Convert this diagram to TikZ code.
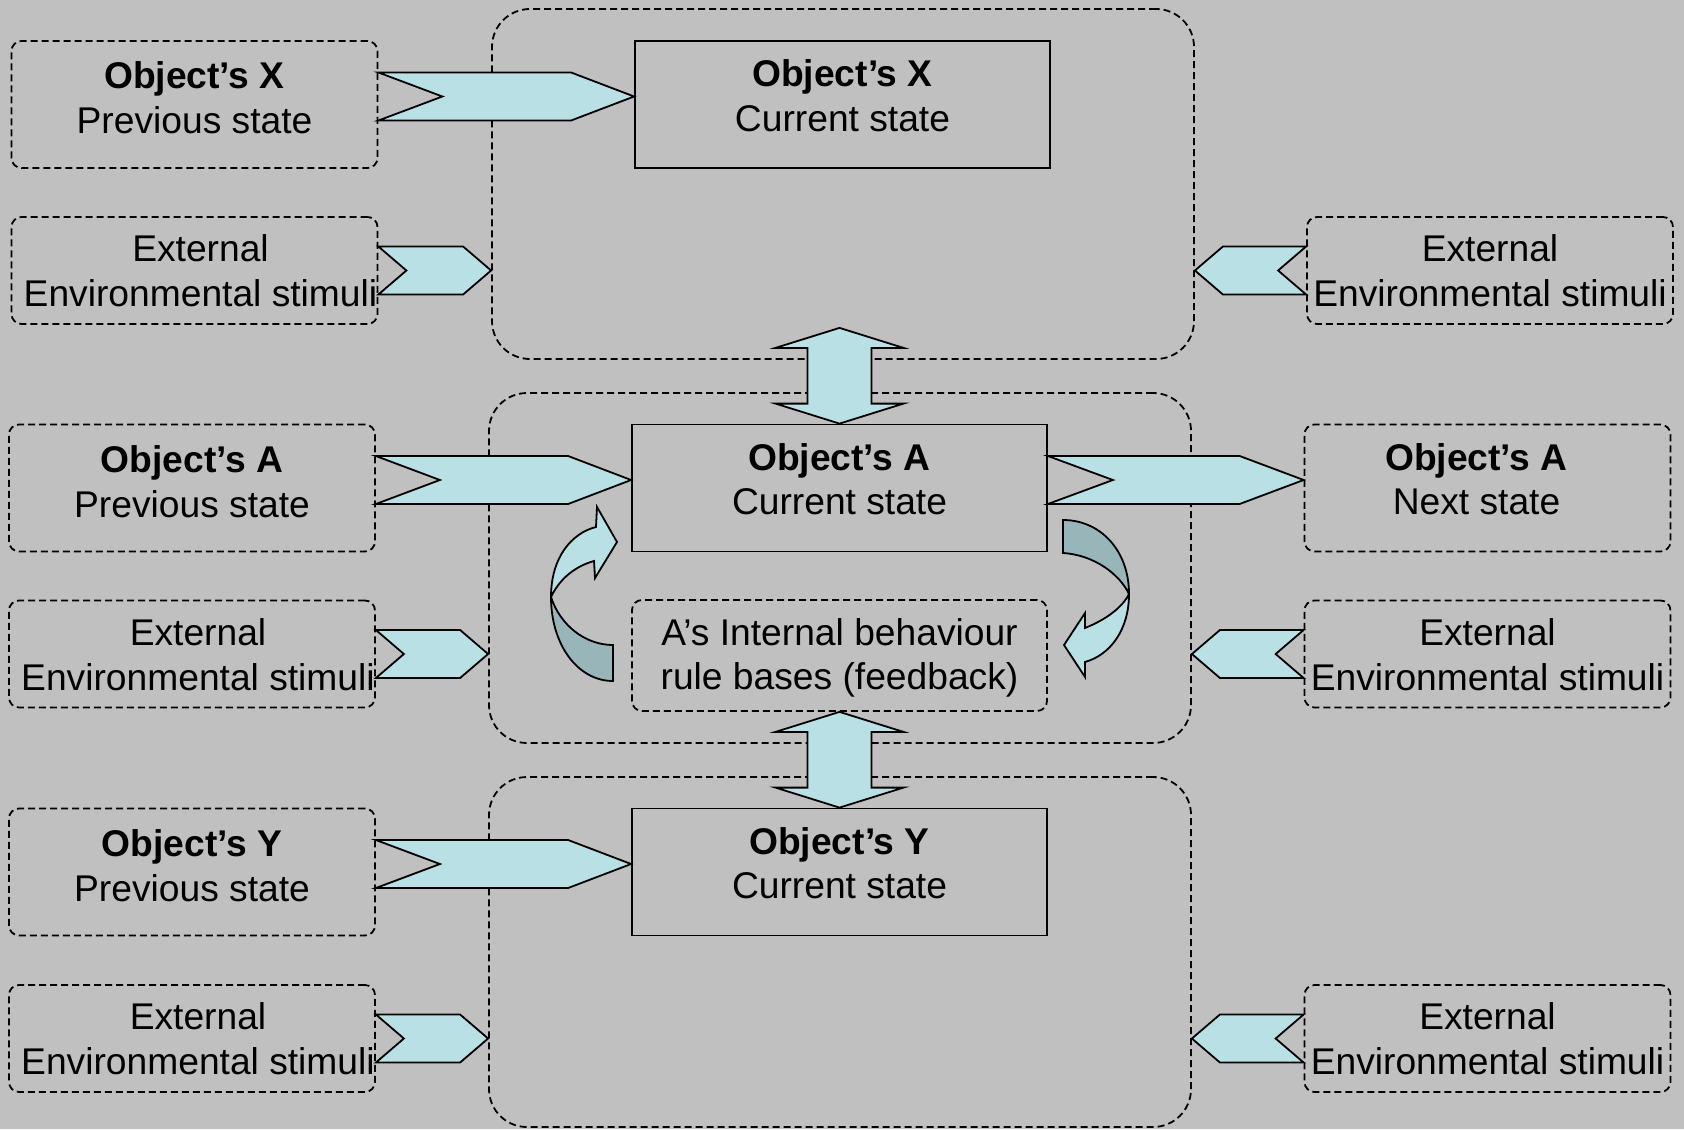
\documentclass[tikz,border=0pt]{standalone}
\usepackage{fontspec}
\setmainfont{Liberation Sans}
\usepackage{xcolor}
\definecolor{colBack}{RGB}{192,192,192}
\definecolor{colArrow}{RGB}{185,224,228}
\definecolor{colArrowDark}{RGB}{152,181,186}
\usetikzlibrary{calc}
% two-line box text: #1 extra room on top, #2 extra room below
\newcommand{\boxtxt}[4]{\begin{tabular}{@{}c@{}}\rule{0pt}{\dimexpr15.6pt+#1\relax}#3\\#4\\[#2]\end{tabular}}
% chevron arrows: #1 tail, #2 tip (same height), #3 notch depth, #4 head length
\newcommand{\chevR}[4]{\draw[chev] let \p1=(#1), \p2=(#2) in
  (\x1,\y1+12pt) -- (\x2-#4,\y1+12pt) -- (\x2,\y1) -- (\x2-#4,\y1-12pt) -- (\x1,\y1-12pt) -- (\x1+#3,\y1) -- cycle;}
\newcommand{\chevL}[4]{\draw[chev] let \p1=(#1), \p2=(#2) in
  (\x1,\y1+12pt) -- (\x2+#4,\y1+12pt) -- (\x2,\y1) -- (\x2+#4,\y1-12pt) -- (\x1,\y1-12pt) -- (\x1-#3,\y1) -- cycle;}
% vertical double arrow: #1 upper tip, #2 lower tip
\newcommand{\dblarrow}[2]{\draw[chev] let \p1=(#1), \p2=(#2) in
  (\x1,\y1) -- (\x1+32pt,\y1-10pt) -- (\x1+16pt,\y1-10pt) -- (\x1+16pt,\y2+10pt) -- (\x1+32pt,\y2+10pt)
  -- (\x1,\y2) -- (\x1-32pt,\y2+10pt) -- (\x1-16pt,\y2+10pt) -- (\x1-16pt,\y1-10pt) -- (\x1-32pt,\y1-10pt) -- cycle;}

\begin{document}
\begin{tikzpicture}[x=0.5pt, y=-0.5pt, line width=0.9pt,
  txt/.style={font=\fontsize{18.6}{22.3}\selectfont, align=center, inner sep=0pt},
  dbox/.style={txt, draw, dash pattern=on 3.5pt off 2pt, rounded corners=5pt},
  prevbox/.style={dbox, minimum width=183pt, minimum height=63.5pt},
  extbox/.style={dbox, minimum width=183pt, minimum height=53.5pt},
  rulebox/.style={dbox, minimum width=207.5pt, minimum height=55.5pt},
  statebox/.style={txt, draw, minimum width=207.5pt, minimum height=63.5pt},
  contbox/.style={draw, dash pattern=on 3.5pt off 2pt, rounded corners=19pt, minimum width=351pt, minimum height=175pt, inner sep=0pt},
  chev/.style={draw, fill=colArrow},
  ]
  \fill[colBack] (0,0) rectangle (1684,1129);
  \useasboundingbox (0,0) rectangle (1684,1129);
  % containers
  \node[contbox] (xcont) at (843,184) {};
  \node[contbox] (acont) at (840,568) {};
  \node[contbox] (ycont) at (840,952) {};
  % object X
  \node[prevbox] (xprev) at (194.5,104.5) {\boxtxt{0pt}{2.2pt}{\textbf{Object’s X}}{Previous state}};
  \node[statebox] (xcur) at (842.5,104.5) {\boxtxt{0pt}{4.6pt}{\textbf{Object’s X}}{Current state}};
  \node[extbox] (xextL) at (194.5,270.5) {\kern6pt\boxtxt{4.8pt}{0pt}{External}{Environmental stimuli}};
  \node[extbox] (xextR) at (1490,270.5) {\boxtxt{4.8pt}{0pt}{External}{Environmental stimuli}};
  % object A
  \node[prevbox] (aprev) at (192,488) {\boxtxt{0pt}{2.2pt}{\textbf{Object’s A}}{Previous state}};
  \node[statebox] (acur) at (839.5,488) {\boxtxt{0pt}{4.6pt}{\textbf{Object’s A}}{Current state}};
  \node[prevbox] (anext) at (1487.5,488) {\kern-11pt\boxtxt{0pt}{4.6pt}{\textbf{Object’s A}}{Next state}};
  \node[extbox] (aextL) at (192,654) {\kern6pt\boxtxt{4.8pt}{0pt}{External}{Environmental stimuli}};
  \node[extbox] (aextR) at (1487.5,654) {\boxtxt{4.8pt}{0pt}{External}{Environmental stimuli}};
  \node[rulebox] (arule) at (839.5,655.5) {\boxtxt{3.2pt}{0pt}{A’s Internal behaviour}{rule bases (feedback)}};
  % object Y
  \node[prevbox] (yprev) at (192,872) {\boxtxt{0pt}{2.2pt}{\textbf{Object’s Y}}{Previous state}};
  \node[statebox] (ycur) at (839.5,872) {\boxtxt{0pt}{4.6pt}{\textbf{Object’s Y}}{Current state}};
  \node[extbox] (yextL) at (192,1038.5) {\kern6pt\boxtxt{4.8pt}{0pt}{External}{Environmental stimuli}};
  \node[extbox] (yextR) at (1487.5,1038.5) {\boxtxt{4.8pt}{0pt}{External}{Environmental stimuli}};
  % state chevrons
  \chevR{[yshift=4pt]xprev.east}{[yshift=4pt]xcur.west}{32pt}{31.5pt}
  \chevR{[yshift=4pt]aprev.east}{[yshift=4pt]acur.west}{32pt}{31.5pt}
  \chevR{[yshift=4pt]acur.east}{[yshift=4pt]anext.west}{32.5pt}{32pt}
  \chevR{[yshift=4pt]yprev.east}{[yshift=4pt]ycur.west}{32pt}{31.5pt}
  % stimuli chevrons
  \chevR{xextL.east}{xextL.east -| xcont.west}{14pt}{14pt}
  \chevR{aextL.east}{aextL.east -| acont.west}{14pt}{14pt}
  \chevR{yextL.east}{yextL.east -| ycont.west}{14pt}{14pt}
  \chevL{xextR.west}{xextR.west -| xcont.east}{14pt}{14pt}
  \chevL{aextR.west}{aextR.west -| acont.east}{14pt}{14pt}
  \chevL{yextR.west}{yextR.west -| ycont.east}{14pt}{14pt}
  % links between objects
  \coordinate (xlink) at ($(acur.north |- xcont.south)+(0,-32)$);
  \dblarrow{xlink}{acur.north}
  \dblarrow{arule.south}{ycur.north}
  % feedback loop, left
  \draw[fill=colArrowDark] (551,597) .. controls (551,645) and (578,681) .. (613,681) -- (613,645) .. controls (585,645) and (560,625) .. (551,597) -- cycle;
  \draw[fill=colArrow] (551,597) .. controls (551,557) and (572,533) .. (596,527) -- (597,507) -- (617,542) -- (595,578) -- (594,561) .. controls (576,566) and (560,578) .. (551,597) -- cycle;
  % feedback loop, right
  \draw[fill=colArrowDark] (1063,520) .. controls (1100,520) and (1129,550) .. (1129,594) .. controls (1120,575) and (1095,555) .. (1063,553) -- cycle;
  \draw[fill=colArrow] (1129,594) .. controls (1129,630) and (1110,655) .. (1085,662) -- (1085,677) -- (1064,645) -- (1085,613) -- (1085,628) .. controls (1105,620) and (1122,608) .. (1129,594) -- cycle;
\end{tikzpicture}
\end{document}
